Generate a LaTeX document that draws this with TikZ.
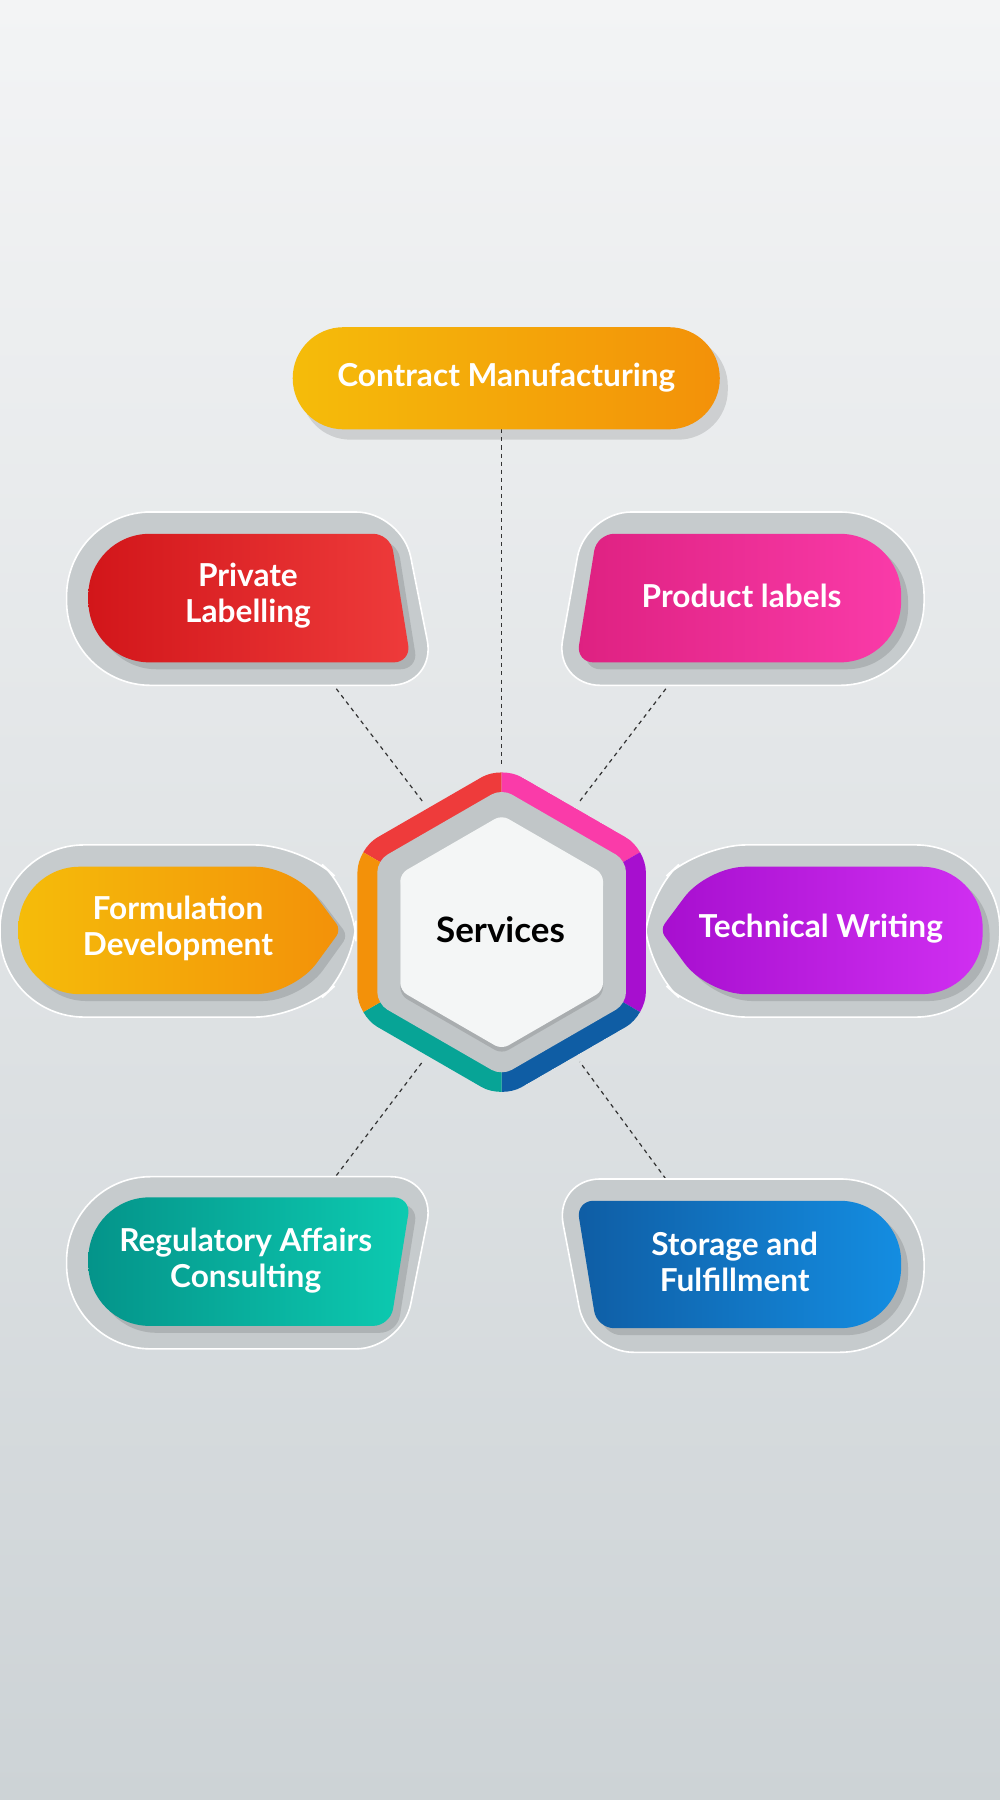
\documentclass[tikz,border=0pt]{standalone}
\usepackage{fontspec}
\setmainfont{Lato}
\definecolor{bgA}{HTML}{F3F4F5}\definecolor{bgB}{HTML}{CDD3D6}
\definecolor{gry}{HTML}{C6CBCD}\definecolor{hexg}{HTML}{C1C6C8}\definecolor{hexw}{HTML}{F4F6F6}
\definecolor{orA}{HTML}{F5BC0A}\definecolor{orB}{HTML}{F39109}
\definecolor{rdA}{HTML}{D2161A}\definecolor{rdB}{HTML}{EE3B3B}
\definecolor{pkA}{HTML}{DE2181}\definecolor{pkB}{HTML}{FA3BA9}
\definecolor{puA}{HTML}{A70FCF}\definecolor{puB}{HTML}{D02FF1}
\definecolor{tlA}{HTML}{04948A}\definecolor{tlB}{HTML}{0DCBB1}
\definecolor{blA}{HTML}{0F5DA4}\definecolor{blB}{HTML}{148DE1}
\tikzset{lbl/.style={text=white,font=\bfseries\fontsize{23.5}{27}\selectfont,align=center},
 outer/.style={fill=gry,draw=white,line width=1.2pt},
 shd/.style={fill=black,opacity=0.12},
 con/.style={dashed,line width=0.9pt,black!80}}
\begin{document}
\begin{tikzpicture}[x=0.03cm,y=-0.03cm]
\shade[top color=bgA,bottom color=bgB] (0,0) rectangle (871,1568);
\useasboundingbox (0,0) rectangle (871,1568);
% connectors
\coordinate (c1) at (437,374);\coordinate (h1) at (437,667);
\coordinate (c2) at (293,600);\coordinate (h2) at (368,698);
\coordinate (c3) at (580,600);\coordinate (h3) at (505,698);
\coordinate (c4) at (293,1024);\coordinate (h4) at (368,925);
\coordinate (c5) at (580,1027);\coordinate (h5) at (505,925);
\foreach \i in {1,...,5} \draw[con] (c\i) -- (h\i);
% Contract
\fill[shd,rounded corners=1.3cm] (262,293) rectangle (634,383);
\shade[left color=orA,right color=orB,rounded corners=1.33cm] (255,285) rectangle (627,374);
\node[lbl] (cm) at (441,329) {Contract Manufacturing};
% Private labelling
\path[outer,rounded corners=2.2cm] (200,597) -- (58,597) -- (58,446) -- (200,446) [rounded corners=1.2cm] -- (350,446) -- (380,597) -- cycle;
\fill[shd,rounded corners=1.6cm] (206,583) -- (83,583) -- (83,471) -- (206,471) [rounded corners=0.45cm] -- (346,471) -- (364,583) -- cycle;
\shade[left color=rdA,right color=rdB,rounded corners=1.6cm] (200,577) -- (77,577) -- (77,465) -- (200,465) [rounded corners=0.45cm] -- (340,465) -- (358,577) -- cycle;
\node[lbl] (pl) at (216,519) {Private\\Labelling};
% Product labels
\path[outer,rounded corners=2.2cm] (650,597) -- (805,597) -- (805,446) -- (650,446) [rounded corners=1.2cm] -- (510,446) -- (483,597) -- cycle;
\fill[shd,rounded corners=1.6cm] (656,583) -- (791,583) -- (791,471) -- (656,471) [rounded corners=0.45cm] -- (526,471) -- (508,583) -- cycle;
\shade[left color=pkA,right color=pkB,rounded corners=1.6cm] (650,577) -- (785,577) -- (785,465) -- (650,465) [rounded corners=0.45cm] -- (520,465) -- (502,577) -- cycle;
\node[lbl] (pr) at (646,519) {Product labels};
% Formulation
\path[outer,rounded corners=2.2cm] (150,886) -- (0,886) -- (0,736) -- (150,736) [rounded corners=1.2cm] -- (262,736) -- (310,780) -- (310,842) -- (262,886) -- cycle;
\fill[shd,rounded corners=1.6cm] (156,872) -- (22,872) -- (22,761) -- (156,761) [rounded corners=1.0cm] -- (262,761) [rounded corners=0.2cm] -- (303,815) [rounded corners=1.0cm] -- (262,872) -- cycle;
\shade[left color=orA,right color=orB,rounded corners=1.6cm] (150,866) -- (16,866) -- (16,755) -- (150,755) [rounded corners=1.0cm] -- (256,755) [rounded corners=0.2cm] -- (297,810) [rounded corners=1.0cm] -- (256,866) -- cycle;
\node[lbl] (fd) at (155,809) {Formulation\\Development};
% Technical
\path[outer,rounded corners=2.2cm] (720,886) -- (871,886) -- (871,736) -- (720,736) [rounded corners=1.2cm] -- (610,736) -- (562,780) -- (562,842) -- (610,886) -- cycle;
\fill[shd,rounded corners=1.6cm] (726,872) -- (862,872) -- (862,761) -- (726,761) [rounded corners=1.0cm] -- (622,761) [rounded corners=0.2cm] -- (581,815) [rounded corners=1.0cm] -- (622,872) -- cycle;
\shade[left color=puA,right color=puB,rounded corners=1.6cm] (720,866) -- (856,866) -- (856,755) -- (720,755) [rounded corners=1.0cm] -- (616,755) [rounded corners=0.2cm] -- (575,810) [rounded corners=1.0cm] -- (616,866) -- cycle;
\node[lbl] (tw) at (715,809) {Technical Writing};
% Regulatory
\path[outer,rounded corners=2.2cm] (200,1025) -- (58,1025) -- (58,1175) -- (200,1175) [rounded corners=1.2cm] -- (350,1175) -- (380,1025) -- cycle;
\fill[shd,rounded corners=1.6cm] (206,1049) -- (83,1049) -- (83,1161) -- (206,1161) [rounded corners=0.45cm] -- (346,1161) -- (364,1049) -- cycle;
\shade[left color=tlA,right color=tlB,rounded corners=1.6cm] (200,1043) -- (77,1043) -- (77,1155) -- (200,1155) [rounded corners=0.45cm] -- (340,1155) -- (358,1043) -- cycle;
\node[lbl] (ra) at (214,1098) {Regulatory Affairs\\Consulting};
% Storage
\path[outer,rounded corners=2.2cm] (650,1027) -- (805,1027) -- (805,1178) -- (650,1178) [rounded corners=1.2cm] -- (512,1178) -- (483,1027) -- cycle;
\fill[shd,rounded corners=1.6cm] (656,1052) -- (791,1052) -- (791,1163) -- (656,1163) [rounded corners=0.45cm] -- (526,1163) -- (508,1052) -- cycle;
\shade[left color=blA,right color=blB,rounded corners=1.6cm] (650,1046) -- (785,1046) -- (785,1157) -- (650,1157) [rounded corners=0.45cm] -- (520,1157) -- (502,1046) -- cycle;
\node[lbl] (sf) at (640,1099) {Storage and\\Fulfillment};
% hexagon
\coordinate (o) at (437,812);
\begin{scope}
\clip[rounded corners=0.6cm] (437,667) -- (562.6,739.5) -- (562.6,884.5) -- (437,957) -- (311.4,884.5) -- (311.4,739.5) -- cycle;
\fill[rdB] (o) -- (311.4,739.5) -- (437,667) -- cycle;
\fill[pkB] (o) -- (437,667) -- (562.6,739.5) -- cycle;
\fill[puA] (o) -- (562.6,739.5) -- (562.6,884.5) -- cycle;
\fill[blA] (o) -- (562.6,884.5) -- (437,957) -- cycle;
\fill[tlA!70!tlB] (o) -- (437,957) -- (311.4,884.5) -- cycle;
\fill[orB] (o) -- (311.4,884.5) -- (311.4,739.5) -- cycle;
\end{scope}
\fill[hexg,rounded corners=0.3cm] (437,687) -- (545.3,749.5) -- (545.3,874.5) -- (437,937) -- (328.7,874.5) -- (328.7,749.5) -- cycle;
\fill[black,opacity=0.12,rounded corners=0.2cm] (437,714) -- (525.3,765) -- (525.3,867) -- (437,918) -- (348.7,867) -- (348.7,765) -- cycle;
\fill[hexw,rounded corners=0.2cm] (437,710) -- (525.3,761) -- (525.3,863) -- (437,914) -- (348.7,863) -- (348.7,761) -- cycle;
\node[font=\bfseries\fontsize{26}{30}\selectfont] (sv) at (436,810) {Services};
\end{tikzpicture}
\end{document}
